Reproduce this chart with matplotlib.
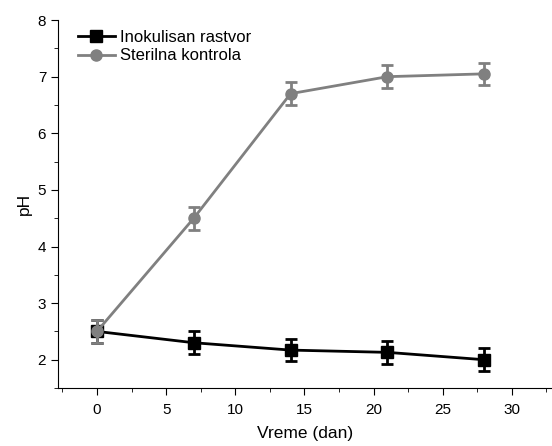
import matplotlib
matplotlib.use("Agg")
import matplotlib.pyplot as plt
from matplotlib.ticker import MultipleLocator
from matplotlib.lines import Line2D

plt.rcParams['font.family'] = ['Liberation Sans', 'DejaVu Sans']

days = [0, 7, 14, 21, 28]
inok = [2.5, 2.3, 2.17, 2.13, 2.0]
inok_err = [0.2, 0.2, 0.2, 0.2, 0.2]
ster = [2.5, 4.5, 6.7, 7.0, 7.05]
ster_err = [0.2, 0.2, 0.2, 0.2, 0.2]

fig = plt.figure(figsize=(5.52, 4.46), dpi=100)
ax = fig.add_axes([0.105, 0.13, 0.895, 0.825])

ax.errorbar(days, inok, yerr=inok_err, color='black', marker='s', markersize=8,
            lw=2, capsize=4, capthick=2, elinewidth=2, zorder=2)
ax.errorbar(days, ster, yerr=ster_err, color='#808080', marker='o', markersize=8,
            lw=2, capsize=4, capthick=2, elinewidth=2, zorder=3)

ax.set_xlim(-2.82, 32.9)
ax.set_ylim(1.5, 8)
ax.xaxis.set_major_locator(MultipleLocator(5))
ax.xaxis.set_minor_locator(MultipleLocator(2.5))
ax.yaxis.set_major_locator(MultipleLocator(1))
ax.yaxis.set_minor_locator(MultipleLocator(0.5))
ax.spines['top'].set_visible(False)
ax.spines['right'].set_visible(False)
ax.tick_params(which='major', direction='out', length=5, labelsize=11)
ax.tick_params(which='minor', direction='out', length=3)
ax.tick_params(axis='x', pad=6)
ax.set_xlabel('Vreme (dan)', fontsize=12.5, labelpad=6)
ax.set_ylabel('pH', fontsize=12.5)

handles = [Line2D([], [], color='black', marker='s', markersize=8, lw=2),
           Line2D([], [], color='#808080', marker='o', markersize=8, lw=2)]
labels = ['Inokulisan rastvor', 'Sterilna kontrola']
ax.legend(handles, labels, loc='upper left', frameon=False, fontsize=12, handlelength=2.2,
          borderaxespad=0.2, handletextpad=0.3, labelspacing=0.2,
          bbox_to_anchor=(0.02, 1.0))

fig.savefig('out.png', dpi=100)
